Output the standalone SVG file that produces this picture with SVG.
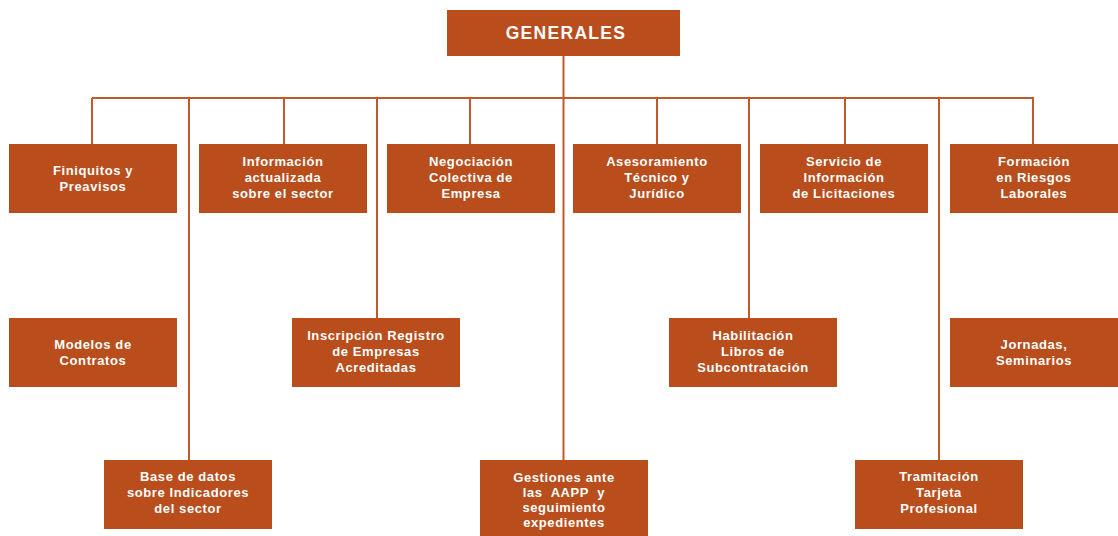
<svg xmlns="http://www.w3.org/2000/svg" width="1118" height="536" viewBox="0 0 1118 536">
<style>
.box{fill:#B94D1B}
.t{font-family:"Liberation Sans",Arial,sans-serif;font-weight:bold;font-size:13px;fill:#ffffff;text-anchor:middle;letter-spacing:0.6px;white-space:pre}
.title{font-size:17.5px;letter-spacing:1.3px}
.c{stroke:#C05A2C;stroke-width:2;fill:none}
</style>
<rect width="1118" height="536" fill="#ffffff"/>
<g id="connectors">
<path class="c" d="M563.5 55V98M92 98H1034M92 98V144M284 98V144M470 98V144M657 98V144M845 98V144M1033 98V144M189 98V460M377 98V318M563.5 98V460M749 98V318M939 98V460"/>
</g>
<g id="n-generales"><rect class="box" x="447" y="10" width="233" height="46"/><text class="t title" x="566" y="38.5">GENERALES</text></g>
<g id="n-finiquitos"><rect class="box" x="9" y="144" width="168" height="69"/><text class="t" x="93" y="175">Finiquitos y</text><text class="t" x="93" y="191">Preavisos</text></g>
<g id="n-informacion"><rect class="box" x="199" y="144" width="168" height="69"/><text class="t" x="283" y="166">Información</text><text class="t" x="283" y="182">actualizada</text><text class="t" x="283" y="198">sobre el sector</text></g>
<g id="n-negociacion"><rect class="box" x="387" y="144" width="168" height="69"/><text class="t" x="471" y="166">Negociación</text><text class="t" x="471" y="182">Colectiva de</text><text class="t" x="471" y="198">Empresa</text></g>
<g id="n-asesoramiento"><rect class="box" x="573" y="144" width="168" height="69"/><text class="t" x="657" y="166">Asesoramiento</text><text class="t" x="657" y="182">Técnico y</text><text class="t" x="657" y="198">Jurídico</text></g>
<g id="n-servicio"><rect class="box" x="760" y="144" width="168" height="69"/><text class="t" x="844" y="166">Servicio de</text><text class="t" x="844" y="182">Información</text><text class="t" x="844" y="198">de Licitaciones</text></g>
<g id="n-formacion"><rect class="box" x="950" y="144" width="168" height="69"/><text class="t" x="1034" y="166">Formación</text><text class="t" x="1034" y="182">en Riesgos</text><text class="t" x="1034" y="198">Laborales</text></g>
<g id="n-modelos"><rect class="box" x="9" y="318" width="168" height="69"/><text class="t" x="93" y="349">Modelos de</text><text class="t" x="93" y="365">Contratos</text></g>
<g id="n-inscripcion"><rect class="box" x="292" y="318" width="168" height="69"/><text class="t" x="376" y="340">Inscripción Registro</text><text class="t" x="376" y="356">de Empresas</text><text class="t" x="376" y="372">Acreditadas</text></g>
<g id="n-habilitacion"><rect class="box" x="669" y="318" width="168" height="69"/><text class="t" x="753" y="340">Habilitación</text><text class="t" x="753" y="356">Libros de</text><text class="t" x="753" y="372">Subcontratación</text></g>
<g id="n-jornadas"><rect class="box" x="950" y="318" width="168" height="69"/><text class="t" x="1034" y="349">Jornadas,</text><text class="t" x="1034" y="365">Seminarios</text></g>
<g id="n-basedatos"><rect class="box" x="104" y="460" width="168" height="69"/><text class="t" x="188" y="481">Base de datos</text><text class="t" x="188" y="497">sobre Indicadores</text><text class="t" x="188" y="513">del sector</text></g>
<g id="n-gestiones"><rect class="box" x="480" y="460" width="168" height="76"/><text class="t" x="564" y="482">Gestiones ante</text><text class="t" x="564" y="497">las  AAPP  y</text><text class="t" x="564" y="512">seguimiento</text><text class="t" x="564" y="527">expedientes</text></g>
<g id="n-tramitacion"><rect class="box" x="855" y="460" width="168" height="69"/><text class="t" x="939" y="481">Tramitación</text><text class="t" x="939" y="497">Tarjeta</text><text class="t" x="939" y="513">Profesional</text></g>
</svg>
